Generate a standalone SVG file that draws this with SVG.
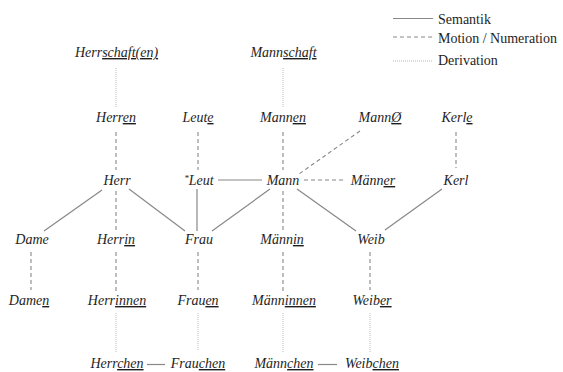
<svg xmlns="http://www.w3.org/2000/svg" width="563" height="372" viewBox="0 0 563 372" font-family="'Liberation Serif', 'Times New Roman', serif">
<style>
text{font-family:"Liberation Serif","Times New Roman",serif;font-size:14px;fill:#1e1e1e}
.n text{font-style:italic;text-anchor:middle}
.u{text-decoration:underline;text-decoration-color:#888}
.s{stroke:#888;stroke-width:1.2;fill:none}
.d{stroke:#888;stroke-width:1.1;stroke-dasharray:4 3;fill:none}
.o{stroke:#bbb;stroke-width:1;stroke-dasharray:1 1;fill:none}
</style>
<rect width="563" height="372" fill="#fff"/>
<g id="legend">
<line class="s" x1="393" y1="18.5" x2="433" y2="18.5"/>
<text x="438" y="24">Semantik</text>
<line class="d" x1="393" y1="37" x2="433" y2="37"/>
<text x="438" y="43">Motion / Numeration</text>
<line class="o" x1="393" y1="61" x2="433" y2="61"/>
<text x="438" y="65">Derivation</text>
</g>
<g id="connectors">
<line class="o" x1="116" y1="68" x2="116" y2="108"/>
<line class="o" x1="283" y1="68" x2="283" y2="108"/>
<line class="o" x1="116" y1="313" x2="116" y2="352"/>
<line class="o" x1="198" y1="313" x2="198" y2="350"/>
<line class="o" x1="283" y1="313" x2="283" y2="352"/>
<line class="o" x1="370" y1="313" x2="370" y2="352"/>
<line class="d" x1="116" y1="132" x2="116" y2="170"/>
<line class="d" x1="198" y1="132" x2="198" y2="170"/>
<line class="d" x1="283" y1="132" x2="283" y2="170"/>
<line class="d" x1="456" y1="132" x2="456" y2="168"/>
<line class="d" x1="360" y1="131" x2="299" y2="174"/>
<line class="d" x1="304" y1="180" x2="345" y2="180"/>
<line class="d" x1="116" y1="191" x2="116" y2="231"/>
<line class="d" x1="283" y1="191" x2="283" y2="231"/>
<line class="d" x1="31" y1="252" x2="31" y2="290"/>
<line class="d" x1="116" y1="252" x2="116" y2="292"/>
<line class="d" x1="198" y1="252" x2="198" y2="290"/>
<line class="d" x1="283" y1="252" x2="283" y2="292"/>
<line class="d" x1="370" y1="252" x2="370" y2="290"/>
<line class="s" x1="218" y1="180" x2="262" y2="180"/>
<line class="s" x1="102" y1="190" x2="44" y2="231"/>
<line class="s" x1="129" y1="189" x2="185" y2="231"/>
<line class="s" x1="197" y1="189" x2="197" y2="231"/>
<line class="s" x1="270" y1="189" x2="212" y2="231"/>
<line class="s" x1="297" y1="189" x2="356" y2="231"/>
<line class="s" x1="442" y1="189" x2="385" y2="230"/>
<line class="s" x1="147" y1="364.5" x2="165" y2="364.5"/>
<line class="s" x1="318" y1="364.5" x2="337" y2="364.5"/>
</g>
<g class="n">
<g id="herrschaften"><text x="116.5" y="57">Herr<tspan class="u">schaft(en)</tspan></text></g>
<g id="mannschaft"><text x="283.5" y="57">Mann<tspan class="u">schaft</tspan></text></g>
<g id="herren"><text x="116" y="122">Herr<tspan class="u">en</tspan></text></g>
<g id="leute"><text x="198" y="122">Leut<tspan class="u">e</tspan></text></g>
<g id="mannen"><text x="283" y="122">Mann<tspan class="u">en</tspan></text></g>
<g id="mann0"><text x="380" y="122">Mann<tspan class="u">Ø</tspan></text></g>
<g id="kerle"><text x="457" y="122">Kerl<tspan class="u">e</tspan></text></g>
<g id="herr"><text x="117" y="185">Herr</text></g>
<g id="leut"><text x="199" y="185"><tspan font-size="9" dy="-4">*</tspan><tspan dy="4">Leut</tspan></text></g>
<g id="mann"><text x="283" y="185">Mann</text></g>
<g id="maenner"><text x="373" y="185">Männ<tspan class="u">er</tspan></text></g>
<g id="kerl"><text x="456" y="185">Kerl</text></g>
<g id="dame"><text x="32" y="244">Dame</text></g>
<g id="herrin"><text x="116" y="244">Herr<tspan class="u">in</tspan></text></g>
<g id="frau"><text x="199" y="244">Frau</text></g>
<g id="maennin"><text x="282" y="244">Männ<tspan class="u">in</tspan></text></g>
<g id="weib"><text x="371" y="244">Weib</text></g>
<g id="damen"><text x="29" y="305">Dame<tspan class="u">n</tspan></text></g>
<g id="herrinnen"><text x="117" y="305">Herr<tspan class="u">innen</tspan></text></g>
<g id="frauen"><text x="198" y="305">Frau<tspan class="u">en</tspan></text></g>
<g id="maenninnen"><text x="284" y="305">Männ<tspan class="u">innen</tspan></text></g>
<g id="weiber"><text x="372" y="305">Weib<tspan class="u">er</tspan></text></g>
<g id="herrchen"><text x="117" y="368">Herr<tspan class="u">chen</tspan></text></g>
<g id="frauchen"><text x="198" y="368">Frau<tspan class="u">chen</tspan></text></g>
<g id="maennchen"><text x="284" y="368">Männ<tspan class="u">chen</tspan></text></g>
<g id="weibchen"><text x="372" y="368">Weib<tspan class="u">chen</tspan></text></g>
</g>
</svg>
